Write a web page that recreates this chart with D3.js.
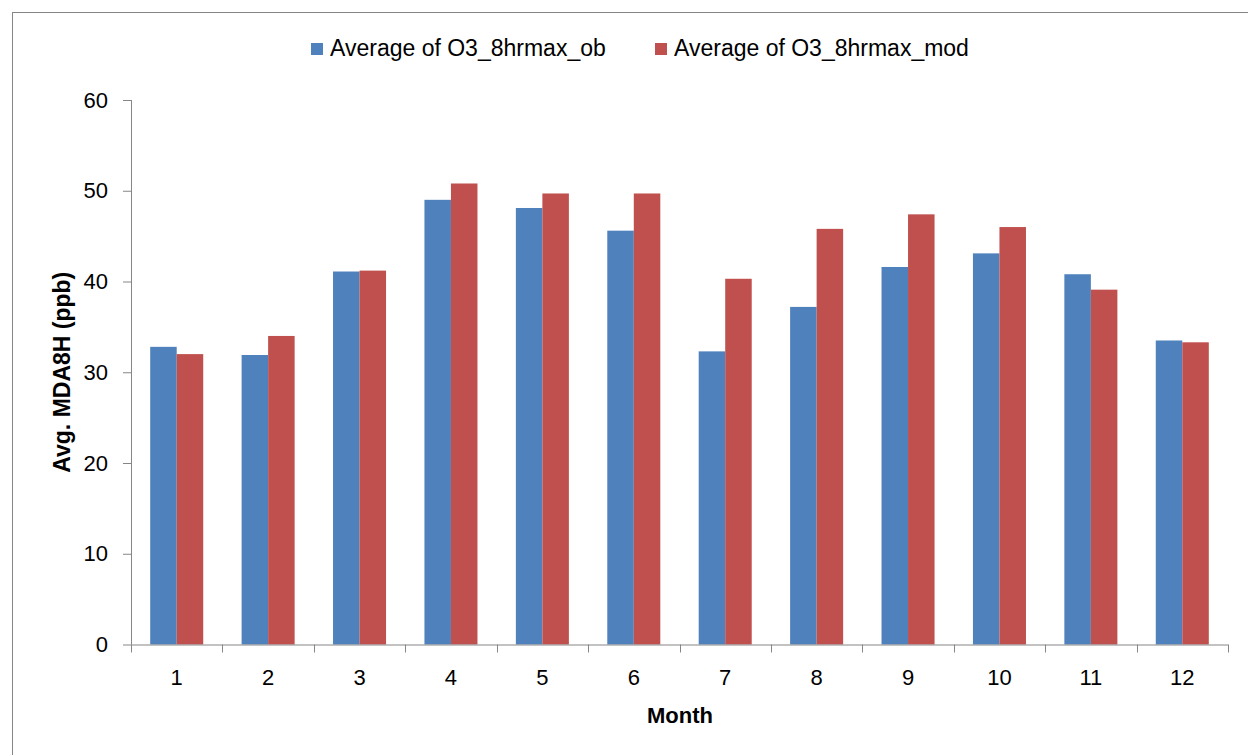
<!DOCTYPE html>
<html>
<head>
<meta charset="utf-8">
<script src="https://cdn.jsdelivr.net/npm/d3@7"></script>
<style>
  html, body { margin: 0; padding: 0; background: #fff; }
  svg { display: block; }
  text { font-family: "Liberation Sans", Arial, sans-serif; fill: #000; }
</style>
</head>
<body>
<svg id="chart" width="1248" height="755"></svg>
<script>
const months = ["1","2","3","4","5","6","7","8","9","10","11","12"];
const seriesNames = ["Average of O3_8hrmax_ob", "Average of O3_8hrmax_mod"];
const obValues  = [32.8, 31.9, 41.1, 49.0, 48.1, 45.6, 32.3, 37.2, 41.6, 43.1, 40.8, 33.5];
const modValues = [32.0, 34.0, 41.2, 50.8, 49.7, 49.7, 40.3, 45.8, 47.4, 46.0, 39.1, 33.3];
const yTicks = [0, 10, 20, 30, 40, 50, 60];
const colors = ["#4F81BD", "#C0504D"];
const xTitle = "Month";
const yTitle = "Avg. MDA8H (ppb)";

(function () {
const svg = d3.select("#chart");
const axisColor = "#868686";
const ff = "Liberation Sans, Arial, sans-serif";

// outer frame (only left/top visible)
svg.append("rect").attr("x", 12.5).attr("y", 12.5).attr("width", 1260).attr("height", 780)
  .attr("fill", "none").attr("stroke", axisColor).attr("stroke-width", 1);

const pLeft = 131, pRight = 1228, pTop = 100, pBottom = 644.5;
const x = d3.scaleBand().domain(months).range([pLeft, pRight]).padding(0);
const bw = x.bandwidth();
const xs = d3.scaleBand().domain(seriesNames).range([bw * 0.21, bw * 0.79]).padding(0);
const y = d3.scaleLinear().domain([0, 60]).range([pBottom, pTop]);

const data = months.map((m, i) => ({ m, vals: [obValues[i], modValues[i]] }));

// bars
const g = svg.append("g");
data.forEach(d => {
  d.vals.forEach((v, j) => {
    g.append("rect")
      .attr("x", x(d.m) + xs(seriesNames[j]))
      .attr("y", y(v))
      .attr("width", xs.bandwidth())
      .attr("height", y(0) - y(v))
      .attr("fill", colors[j]);
  });
});

// y axis
const yAxis = svg.append("g").attr("transform", `translate(${pLeft},0)`)
  .call(d3.axisLeft(y).tickValues(yTicks).tickSize(8).tickPadding(15).tickFormat(d3.format("d")));
yAxis.select(".domain").attr("stroke", axisColor).attr("d", `M0.5,${pTop}V${pBottom}`);
yAxis.selectAll(".tick line").attr("stroke", axisColor);
yAxis.selectAll(".tick text").attr("font-size", 22).attr("font-family", ff).attr("fill", "#000");

// x axis
const xAxis = svg.append("g").attr("transform", `translate(0,${pBottom})`)
  .call(d3.axisBottom(x).tickSize(0).tickPadding(25));
xAxis.select(".domain").attr("stroke", axisColor).attr("d", `M${pLeft},0.5H${pRight}`);
xAxis.selectAll(".tick text").attr("font-size", 22).attr("font-family", ff).attr("fill", "#000");
// boundary ticks
const bounds = months.map(m => x(m)).concat([pRight]);
xAxis.selectAll(".btick").data(bounds).enter().append("line")
  .attr("x1", d => Math.round(d) + 0.5).attr("x2", d => Math.round(d) + 0.5)
  .attr("y1", 0).attr("y2", 8).attr("stroke", axisColor);

// axis titles
svg.append("text").attr("x", 680).attr("y", 723)
  .attr("text-anchor", "middle").attr("font-size", 22).attr("font-weight", "bold").text(xTitle);
svg.append("text").attr("transform", `translate(70,${(pTop + pBottom) / 2}) rotate(-90)`)
  .attr("text-anchor", "middle").attr("font-size", 23).attr("font-weight", "bold").text(yTitle);

// legend
const legendX = [311, 655];
seriesNames.forEach((s, j) => {
  svg.append("rect").attr("x", legendX[j]).attr("y", 43).attr("width", 12).attr("height", 12).attr("fill", colors[j]);
  svg.append("text").attr("x", legendX[j] + 19).attr("y", 56).attr("font-size", 23).text(s);
});
})();
</script>
</body>
</html>
